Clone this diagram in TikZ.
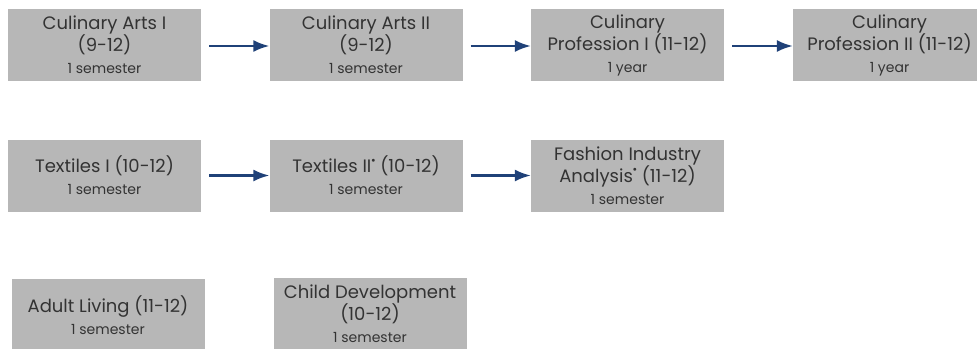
\documentclass[tikz,border=0pt]{standalone}
\usepackage{fontspec}
\setmainfont{Poppins}
\usetikzlibrary{arrows.meta}
\definecolor{boxgray}{HTML}{B7B7B7}
\definecolor{txt}{HTML}{333333}
\definecolor{arrowblue}{HTML}{1F4178}
\newcommand{\sub}[1]{{\fontsize{14}{16}\selectfont #1}}
\newcommand{\dotmark}{\raisebox{1.05ex}{\fontsize{7}{7}\selectfont$\bullet$}}
\tikzset{
  course/.style={rectangle, fill=boxgray, minimum width=193pt, minimum height=72pt,
    inner sep=0pt, align=center, text=txt, font=\fontsize{18}{22}\selectfont},
  flow/.style={draw=arrowblue, line width=2.2pt, -{Latex[length=16pt,width=12pt]}}
}
\begin{document}
\begin{tikzpicture}[x=1pt,y=-1pt]
\useasboundingbox (0,0) rectangle (977,348);
\clip (0,0) rectangle (977,348);
% culinary pathway
\node[course] (ca1) at (104.5,45) {Culinary Arts I\\(9-12)\\\sub{1 semester}};
\node[course] (ca2) at (366,45) {Culinary Arts II\\(9-12)\\\sub{1 semester}};
\node[course] (cp1) at (627.5,45) {Culinary\\Profession I (11-12)\\\sub{1 year}};
\node[course] (cp2) at (889.5,45) {Culinary\\Profession II (11-12)\\\sub{1 year}};
% textiles pathway
\node[course] (tx1) at (104.5,175.5) {Textiles I (10-12)\\\sub{1 semester}};
\node[course] (tx2) at (366,175.5) {Textiles II\dotmark{} (10-12)\\\sub{1 semester}};
\node[course] (fia) at (627.5,175.5) {Fashion Industry\\Analysis\dotmark{} (11-12)\\\sub{1 semester}};
% standalone courses
\node[course] (al) at (108,315) {Adult Living (11-12)\\\sub{1 semester}};
\node[course] (cd) at (370,314) {Child Development\\(10-12)\\\sub{1 semester}};
% arrows
\draw[flow] ([xshift=8pt,yshift=-1pt]ca1.east) -- ([yshift=-1pt]ca2.west);
\draw[flow] ([xshift=8pt,yshift=-1pt]ca2.east) -- ([yshift=-1pt]cp1.west);
\draw[flow] ([xshift=8pt,yshift=-1pt]cp1.east) -- ([yshift=-1pt]cp2.west);
\draw[flow] ([xshift=8pt]tx1.east) -- (tx2.west);
\draw[flow] ([xshift=8pt]tx2.east) -- (fia.west);
\end{tikzpicture}
\end{document}
